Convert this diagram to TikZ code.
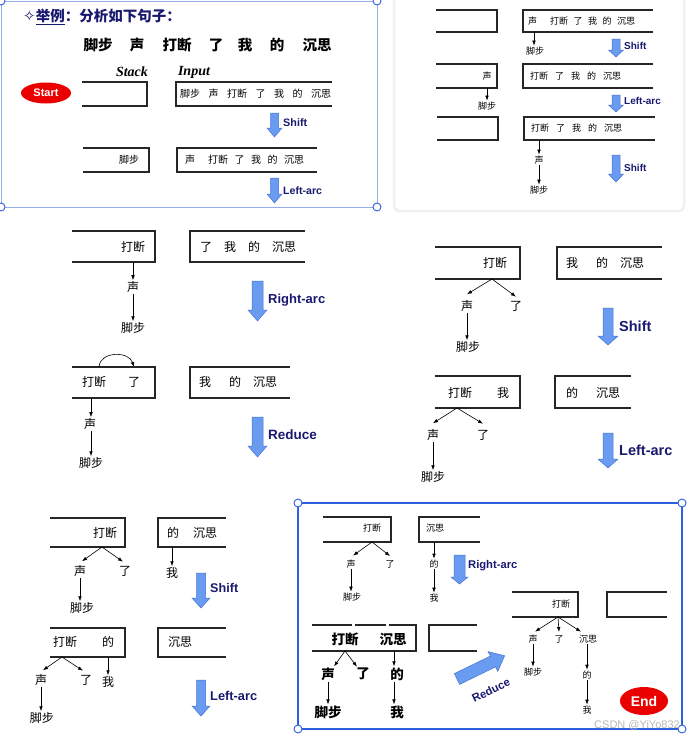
\documentclass[tikz,border=0pt]{standalone}
\usepackage{fontspec}
\setmainfont{Liberation Sans}
\newfontfamily\cjk{Noto Sans CJK SC}
\newfontfamily\dejavu{DejaVu Sans}
\newfontfamily\tms{Liberation Serif}
\usetikzlibrary{arrows.meta,shapes.geometric}
\definecolor{navy}{RGB}{25,25,112}
\definecolor{barfill}{RGB}{105,155,240}
\definecolor{bardraw}{RGB}{70,115,210}
\definecolor{panelblue}{RGB}{45,95,225}
\definecolor{lightpanel}{RGB}{150,175,235}
\definecolor{ovalred}{RGB}{235,0,0}
\newcommand\gapA{\hspace{8.5pt}}
\newcommand\gapB{\hspace{6.5pt}}
\newcommand\gapC{\hspace{13pt}}
\newcommand\gapD{\hspace{5.5pt}}
\newcommand\gapE{\hspace{7pt}}
\newcommand\gapF{\hspace{12pt}}
\newcommand\gapG{\hspace{18pt}}
\newcommand\gapH{\hspace{14pt}}
\newcommand\stkbox[4]{\draw[boxl] (#1,#2) -- (#3,#2) -- (#3,#4) -- (#1,#4);}
\newcommand\inpbox[4]{\draw[boxl] (#3,#2) -- (#1,#2) -- (#1,#4) -- (#3,#4);}
\newcommand\blkarr[6]{\filldraw[barr] (#1-#4,#2) -- (#1+#4,#2) -- (#1+#4,#3-#6) -- (#1+#5,#3-#6) -- (#1,#3) -- (#1-#5,#3-#6) -- (#1-#4,#3-#6) -- cycle;}
\tikzset{
  boxl/.style={line width=1.4pt, draw=black!85},
  barr/.style={fill=barfill, draw=bardraw, line width=0.5pt},
  tarr/.style={-{Latex[length=5pt,width=3.6pt]}, line width=0.6pt, black},
  t10/.style={font=\cjk\fontsize{10}{10}\selectfont, inner sep=1pt},
  t9/.style={font=\cjk\fontsize{9}{9}\selectfont, inner sep=1pt},
  t12/.style={font=\cjk\fontsize{12}{12}\selectfont, inner sep=1pt},
  t13b/.style={font=\cjk\bfseries\fontsize{13.5}{13.5}\selectfont, inner sep=1pt},
  lab/.style={font=\bfseries\fontsize{#1}{#1}\selectfont, text=navy, anchor=west, inner sep=0pt},
  handle/.style={circle, draw=panelblue, fill=white, line width=0.9pt, minimum size=8pt, inner sep=0pt},
  oval/.style={ellipse, fill=ovalred, text=white, inner sep=0pt},
}
\begin{document}
\begin{tikzpicture}[x=1pt,y=-1pt]
\fill[white] (0,0) rectangle (693,740);
\useasboundingbox (0,0) rectangle (693,740);

% ---------- panel frames ----------
\draw[lightpanel, line width=1pt] (1,1) rectangle (377,207);
\node[handle] (ha) at (1,1) {};
\node[handle] (hb) at (377,1) {};
\node[handle] (hc) at (1,207) {};
\node[handle] (hd) at (377,207) {};
\draw[gray!12, line width=2.5pt, rounded corners=5pt] (394,-10) rectangle (684,211);

% ---------- panel 1 ----------
\node[anchor=west, text=navy, inner sep=0pt] (title) at (23,17)
  {{\dejavu\fontsize{15}{15}\selectfont ✧}{\cjk\bfseries\fontsize{14.5}{14.5}\selectfont\underline{举例}：分析如下句子：}};
\tikzset{sw/.style={font=\cjk\bfseries\fontsize{14.5}{14.5}\selectfont, inner sep=0pt}}
\node[sw] (w1) at (98,45) {脚步};
\node[sw] (w2) at (137,45) {声};
\node[sw] (w3) at (177,45) {打断};
\node[sw] (w4) at (216,45) {了};
\node[sw] (w5) at (245,45) {我};
\node[sw] (w6) at (277,45) {的};
\node[sw] (w7) at (317,45) {沉思};
\node[font=\tms\bfseries\itshape\fontsize{14}{14}\selectfont, inner sep=0pt] (stk) at (132,72) {Stack};
\node[font=\tms\bfseries\itshape\fontsize{14}{14}\selectfont, inner sep=0pt] (inp) at (194,72) {Input};
\node[oval, minimum width=50pt, minimum height=21pt, font=\bfseries\fontsize{11}{11}\selectfont] (start) at (46,93) {Start};
\stkbox{82}{82}{147}{106}
\inpbox{176}{82}{332}{106}
\node[t10, anchor=west] (p1in1) at (179,94) {脚步\gapA 声\gapA 打断\gapA 了\gapA 我\gapA 的\gapA 沉思};
\blkarr{274.5}{113}{137}{4}{7.5}{9}
\node[lab=10.8] (p1l1) at (283,123) {Shift};
\stkbox{83}{148}{149}{172}
\inpbox{177}{148}{317}{172}
\node[t10] (p1s2) at (129,160) {脚步};
\node[t10, anchor=west] (p1in2) at (184,160) {声\gapC 打断\gapB 了\gapB 我\gapB 的\gapB 沉思};
\blkarr{274.5}{178}{203}{4}{7.5}{9}
\node[lab=10.6] (p1l2) at (283,191) {Left-arc};

% ---------- panel 2 ----------
\stkbox{436}{10}{497}{32}
\inpbox{523}{10}{653}{32}
\node[t9, anchor=west] (p2in1) at (527,21) {声\gapC 打断\gapD 了\gapD 我\gapD 的\gapD 沉思};
\coordinate (p2c1) at (534,32);
\node[t9] (p2j1) at (535,51) {脚步};
\draw[tarr] (p2c1) -- (p2c1 |- p2j1.north);
\blkarr{616}{39}{57}{4}{7.5}{7}
\node[lab=10] (p2l1) at (624,46) {Shift};
\stkbox{436}{64}{497}{88}
\inpbox{523}{64}{653}{88}
\node[t9] (p2s2) at (487,76) {声};
\coordinate (p2c2) at (487,88);
\node[t9] (p2j2) at (487,106) {脚步};
\draw[tarr] (p2c2) -- (p2c2 |- p2j2.north);
\node[t9, anchor=west] (p2in2) at (529,76) {打断\gapE 了\gapE 我\gapE 的\gapE 沉思};
\blkarr{616}{95}{112}{4}{7.5}{7}
\node[lab=10] (p2l2) at (624,101) {Left-arc};
\stkbox{437}{117}{498}{140}
\inpbox{524}{117}{655}{140}
\node[t9, anchor=west] (p2in3) at (530,128) {打断\gapE 了\gapE 我\gapE 的\gapE 沉思};
\coordinate (p2c3) at (539,140);
\node[t9] (p2s3) at (539,160) {声};
\node[t9] (p2j3) at (539,190) {脚步};
\draw[tarr] (p2c3) -- (p2c3 |- p2s3.north);
\draw[tarr] (p2s3.south) -- (p2s3.south |- p2j3.north);
\blkarr{616}{155}{182}{4}{7.5}{8}
\node[lab=10] (p2l3) at (624,168) {Shift};

% ---------- panel 3 ----------
\stkbox{72}{231}{155}{262}
\inpbox{190}{231}{305}{262}
\node[t12] (p3a) at (133,247) {打断};
\node[t12, anchor=west] (p3in1) at (199,247) {了\gapF 我\gapF 的\gapF 沉思};
\coordinate (p3c1) at (133,262);
\node[t12] (p3s1) at (133,287) {声};
\node[t12] (p3j1) at (133,328) {脚步};
\draw[tarr] (p3c1) -- (p3c1 |- p3s1.north);
\draw[tarr] (p3s1.south) -- (p3s1.south |- p3j1.north);
\blkarr{257.5}{281}{321}{5.5}{9.5}{11}
\node[lab=13] (p3l1) at (268,300) {Right-arc};
\stkbox{72}{367}{155}{398}
\inpbox{190}{367}{290}{398}
\node[t12] (p3b) at (94,382) {打断};
\node[t12] (p3le) at (134,382) {了};
\coordinate (p3u) at (99,367);
\coordinate (p3v) at (134,367);
\draw[tarr] (p3u) .. controls (100,351) and (129,351) .. (p3v);
\node[t12, anchor=west] (p3in2) at (198,382) {我\gapG 的\gapF 沉思};
\coordinate (p3c2) at (91,398);
\node[t12] (p3s2) at (90,424) {声};
\node[t12] (p3j2) at (91,463) {脚步};
\draw[tarr] (p3c2) -- (p3c2 |- p3s2.north);
\draw[tarr] (p3c2 |- p3s2.south) -- (p3c2 |- p3j2.north);
\blkarr{257.5}{417}{457}{5.5}{9.5}{11}
\node[lab=13.5] (p3l2) at (268,435) {Reduce};

% ---------- panel 4 ----------
\stkbox{435}{247}{520}{279}
\inpbox{557}{247}{662}{279}
\node[t12] (p4a) at (495,263) {打断};
\node[t12, anchor=west] (p4in1) at (565,263) {我\gapG 的\gapF 沉思};
\coordinate (p4x1) at (492,279);
\node[t12] (p4s1) at (467,306) {声};
\node[t12] (p4l1) at (516,306) {了};
\draw[tarr] (p4x1) -- ([yshift=5pt]p4s1.north);
\draw[tarr] (p4x1) -- ([yshift=3pt]p4l1.north);
\node[t12] (p4j1) at (468,347) {脚步};
\draw[tarr] (p4s1.south) -- (p4s1.south |- p4j1.north);
\blkarr{608}{308}{345}{5}{10}{9}
\node[lab=14.5] (p4l) at (619,326) {Shift};
\stkbox{435}{376}{520}{408}
\inpbox{555}{376}{631}{408}
\node[t12] (p4b) at (460,393) {打断};
\node[t12] (p4w) at (503,393) {我};
\node[t12, anchor=west] (p4in2) at (565,393) {的\gapG 沉思};
\coordinate (p4x2) at (457,408);
\node[t12] (p4s2) at (433,435) {声};
\node[t12] (p4l2) at (483,435) {了};
\node[t12] (p4j2) at (433,477) {脚步};
\draw[tarr] (p4x2) -- ([yshift=5pt]p4s2.north);
\draw[tarr] (p4x2) -- ([yshift=5pt]p4l2.north);
\draw[tarr] (p4s2.south) -- (p4s2.south |- p4j2.north);
\blkarr{608}{433}{468}{5}{10}{9}
\node[lab=14.5] (p4m) at (619,450) {Left-arc};

% ---------- panel 5 ----------
\stkbox{50}{518}{125}{547}
\inpbox{158}{518}{226}{547}
\node[t12] (p5a) at (105,533) {打断};
\node[t12, anchor=west] (p5in1) at (166,533) {的\gapH 沉思};
\coordinate (p5d) at (172,547);
\node[t12] (p5w1) at (172,573) {我};
\draw[tarr] (p5d) -- (p5d |- p5w1.north);
\coordinate (p5x1) at (102,547);
\node[t12] (p5s1) at (80,571) {声};
\node[t12] (p5l1) at (125,571) {了};
\node[t12] (p5j1) at (82,608) {脚步};
\draw[tarr] (p5x1) -- ([xshift=2pt,yshift=3pt]p5s1.north);
\draw[tarr] (p5x1) -- ([xshift=-2pt,yshift=3pt]p5l1.north);
\draw[tarr] (p5s1.south) -- (p5s1.south |- p5j1.north);
\blkarr{201}{573}{608}{4.5}{9}{10}
\node[lab=12.6] (p5l) at (210,588) {Shift};
\stkbox{50}{628}{125}{657}
\inpbox{158}{628}{226}{657}
\node[t12] (p5b) at (65,642) {打断};
\node[t12] (p5de) at (108,642) {的};
\node[t12] (p5in2) at (180,642) {沉思};
\coordinate (p5x2) at (62,657);
\node[t12] (p5s2) at (41,680) {声};
\node[t12] (p5l2) at (86,680) {了};
\coordinate (p5c2) at (108,657);
\node[t12] (p5w2) at (108,682) {我};
\node[t12] (p5j2) at (42,718) {脚步};
\draw[tarr] (p5x2) -- ([xshift=2pt,yshift=3pt]p5s2.north);
\draw[tarr] (p5x2) -- ([xshift=-3pt,yshift=3pt]p5l2.north);
\draw[tarr] (p5c2) -- (p5c2 |- p5w2.north);
\draw[tarr] (p5s2.south) -- (p5s2.south |- p5j2.north);
\blkarr{201}{680}{716}{4.5}{9}{10}
\node[lab=12.8] (p5m) at (210,696) {Left-arc};

% ---------- panel 6 ----------
\draw[panelblue, line width=1.2pt] (298,503) rectangle (682,729);
\stkbox{323}{517}{391}{542}
\inpbox{419}{517}{480}{542}
\node[t9] (p6a) at (372,528) {打断};
\node[t9] (p6b) at (435,528) {沉思};
\coordinate (p6c1) at (434,542);
\node[t9] (p6d1) at (434,564) {的};
\node[t9] (p6w1) at (434,598) {我};
\draw[tarr] (p6c1) -- (p6c1 |- p6d1.north);
\draw[tarr] (p6c1 |- p6d1.south) -- (p6c1 |- p6w1.north);
\coordinate (p6x1) at (372,542);
\node[t9] (p6s1) at (351,564) {声};
\node[t9] (p6l1) at (390,564) {了};
\node[t9] (p6j1) at (352,597) {脚步};
\draw[tarr] (p6x1) -- ([xshift=2pt,yshift=3pt]p6s1.north);
\draw[tarr] (p6x1) -- ([yshift=3pt]p6l1.north);
\draw[tarr] (p6s1.south) -- (p6s1.south |- p6j1.north);
\blkarr{459.5}{555}{584}{5.5}{8.5}{7}
\node[lab=11.2] (p6l) at (468,566) {Right-arc};

\draw[boxl] (312,625) -- (352,625) (354.5,625) -- (386,625) (388.5,625) -- (416,625) -- (416,651) -- (312,651);
\inpbox{429}{625}{477}{651}
\node[t13b] (p6e) at (345,639) {打断};
\node[t13b] (p6f) at (393,639) {沉思};
\coordinate (p6x2) at (345,651);
\node[t13b] (p6s2) at (328,674) {声};
\node[t13b] (p6l2) at (363,674) {了};
\coordinate (p6c2) at (394,651);
\node[t13b] (p6d2) at (397,674) {的};
\node[t13b] (p6j2) at (328,712) {脚步};
\node[t13b] (p6w2) at (397,712) {我};
\draw[tarr] (p6x2) -- ([xshift=6pt]p6s2.north);
\draw[tarr] (p6x2) -- ([xshift=-6pt]p6l2.north);
\draw[tarr] (p6c2) -- (p6c2 |- p6d2.north);
\draw[tarr] (p6s2.south) -- (p6s2.south |- p6j2.north);
\draw[tarr] (p6c2 |- p6d2.south) -- (p6c2 |- p6w2.north);

\begin{scope}[shift={(457,679)}, rotate=26]
  \filldraw[barr] (0,-6) -- (40,-6) -- (40,-11) -- (53,0) -- (40,11) -- (40,6) -- (0,6) -- cycle;
\end{scope}
\node[lab=11.3, rotate=26, anchor=center] (p6r) at (491,690) {Reduce};

\stkbox{512}{592}{578}{617}
\inpbox{607}{592}{667}{617}
\node[t9] (p6g) at (561,604) {打断};
\coordinate (p6x3) at (558,617);
\node[t9] (p6s3) at (533,639) {声};
\node[t9] (p6l3) at (559,639) {了};
\node[t9] (p6h) at (588,639) {沉思};
\node[t9] (p6j3) at (533,672) {脚步};
\node[t9] (p6d3) at (587,675) {的};
\node[t9] (p6w3) at (587,710) {我};
\draw[tarr] (p6x3) -- ([xshift=2pt,yshift=2pt]p6s3.north);
\draw[tarr] (p6x3) -- ([yshift=2pt]p6l3.north);
\draw[tarr] (p6x3) -- ([xshift=-7pt,yshift=2pt]p6h.north);
\draw[tarr] (p6s3.south) -- (p6s3.south |- p6j3.north);
\draw[tarr] (p6d3.north |- p6h.south) -- (p6d3.north);
\draw[tarr] (p6d3.south) -- (p6w3.north);

\node[oval, minimum width=48pt, minimum height=28pt, font=\bfseries\fontsize{14}{14}\selectfont] (end) at (644,701) {End};

\node[handle] (he) at (298,503) {};
\node[handle] (hf) at (682,503) {};
\node[handle] (hg) at (298,729) {};
\node[handle] (hh) at (682,729) {};
\node[font=\fontsize{11}{11}\selectfont, text=gray!55, anchor=east, inner sep=0pt] (wm) at (680,725) {CSDN @YiYo832};
\end{tikzpicture}
\end{document}
